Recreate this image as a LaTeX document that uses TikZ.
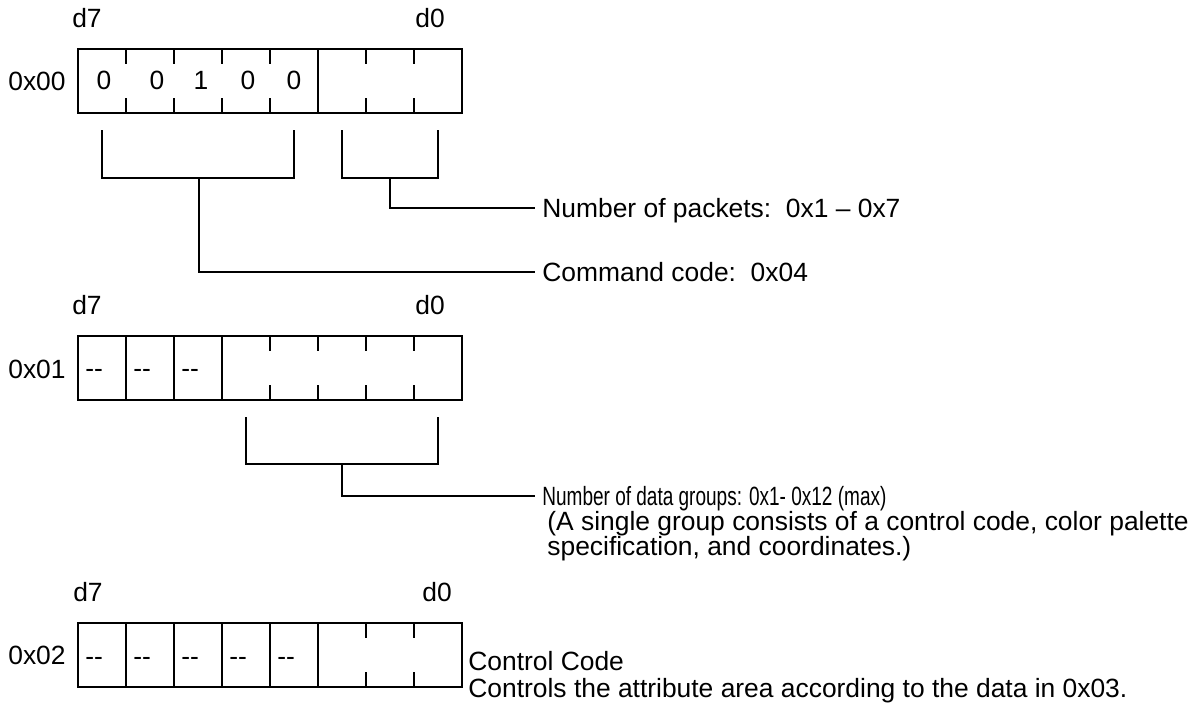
\documentclass[tikz,border=0pt]{standalone}
\usepackage{fontspec}
\usepackage{graphicx}
\setmainfont{Liberation Sans}
\usetikzlibrary{positioning,calc}
\setlength{\lineskiplimit}{-100pt}

\begin{document}
\begin{tikzpicture}[x=0.5pt, y=-0.5pt,
    reg/.style={rectangle, draw=black, line width=1pt, minimum width=192pt, minimum height=32pt, inner sep=0pt, outer sep=0pt},
    wire/.style={line width=1pt, black},
    txt/.style={font=\fontsize{13.2}{15}\selectfont, inner sep=0pt},
    bit/.style={font=\fontsize{13.2}{15}\selectfont, inner sep=0pt, anchor=base},
    lbl/.style={font=\fontsize{13.2}{15}\selectfont, inner xsep=3.5pt, inner ysep=0pt, text height=9.4pt, text depth=0pt, anchor=west},
    note/.style={font=\fontsize{13.2}{12.5}\selectfont, inner sep=0pt, align=left, anchor=north west}
  ]
    \useasboundingbox (0,0) rectangle (1199,702);

    % --- REGISTER 0x00 ---
    \node[reg] (reg0) at (270,80.5) {};
    \node[txt, anchor=base east] (addr0) at (66,90) {0x00};
    \node[txt, anchor=base] (msb0) at (87,27) {d7};
    \node[txt, anchor=base] (lsb0) at (430,27) {d0};
    \draw[wire] (318,48.5) -- (318,112.5);
    \foreach \x in {126,174,222,270,366,414} {
      \draw[wire] (\x,48.5) -- ++(0,15);
      \draw[wire] (\x,112.5) -- ++(0,-15);
    }
    \foreach \x/\b [count=\i] in {104/0,157/0,201/1,248/0,294/0}
      \node[bit] (bit0\i) at (\x,89) {\b};

    % brackets of 0x00
    \draw[wire] (102,130) -- (102,178) -- (294,178) -- (294,130);
    \coordinate (cmdtap) at (199,178);
    \node[lbl] (cmd) at (535,272) {Command code:\ \ 0x04};
    \draw[wire] (cmdtap) |- (cmd.west);

    \draw[wire] (342,130) -- (342,178) -- (438,178) -- (438,130);
    \coordinate (npktap) at (390,178);
    \node[lbl] (npk) at (535,208) {Number of packets:\ \ 0x1 – 0x7};
    \draw[wire] (npktap) |- (npk.west);

    % --- REGISTER 0x01 ---
    \node[reg] (reg1) at (270,368) {};
    \node[txt, anchor=base east] (addr1) at (66,378) {0x01};
    \node[txt, anchor=base] (msb1) at (87,314) {d7};
    \node[txt, anchor=base] (lsb1) at (430,314) {d0};
    \foreach \x in {126,174,222}
      \draw[wire] (\x,336) -- (\x,400);
    \foreach \x in {270,318,366,414} {
      \draw[wire] (\x,336) -- ++(0,15);
      \draw[wire] (\x,400) -- ++(0,-15);
    }
    \foreach \x [count=\i] in {85,133,181}
      \node[bit, anchor=base west] (bit1\i) at (\x,377) {-{}-};

    % bracket of 0x01
    \draw[wire] (246,417) -- (246,464) -- (438,464) -- (438,417);
    \coordinate (grptap) at (342,464);
    \node[lbl] (ngrp) at (535,496) {\scalebox{0.72}[1]{Number of data groups: 0x1- 0x12 (max)}};
    \draw[wire] (grptap) |- (ngrp.west);
    \node[note] (grpnote) at (547,511) {(A single group consists of a control code, color palette\\specification, and coordinates.)};

    % --- REGISTER 0x02 ---
    \node[reg] (reg2) at (270,655) {};
    \node[txt, anchor=base east] (addr2) at (66,664) {0x02};
    \node[txt, anchor=base] (msb2) at (88,601) {d7};
    \node[txt, anchor=base] (lsb2) at (437,601) {d0};
    \foreach \x in {126,174,222,270,318}
      \draw[wire] (\x,623) -- (\x,687);
    \foreach \x in {366,414} {
      \draw[wire] (\x,623) -- ++(0,15);
      \draw[wire] (\x,687) -- ++(0,-15);
    }
    \foreach \x [count=\i] in {85,133,181,229,277}
      \node[bit, anchor=base west] (bit2\i) at (\x,665) {-{}-};

    \node[txt, anchor=base west] (ctl) at (468,670) {Control Code};
    \node[txt, anchor=base west] (ctlnote) at (468,697) {Controls the attribute area according to the data in 0x03.};
  \end{tikzpicture}
\end{document}
